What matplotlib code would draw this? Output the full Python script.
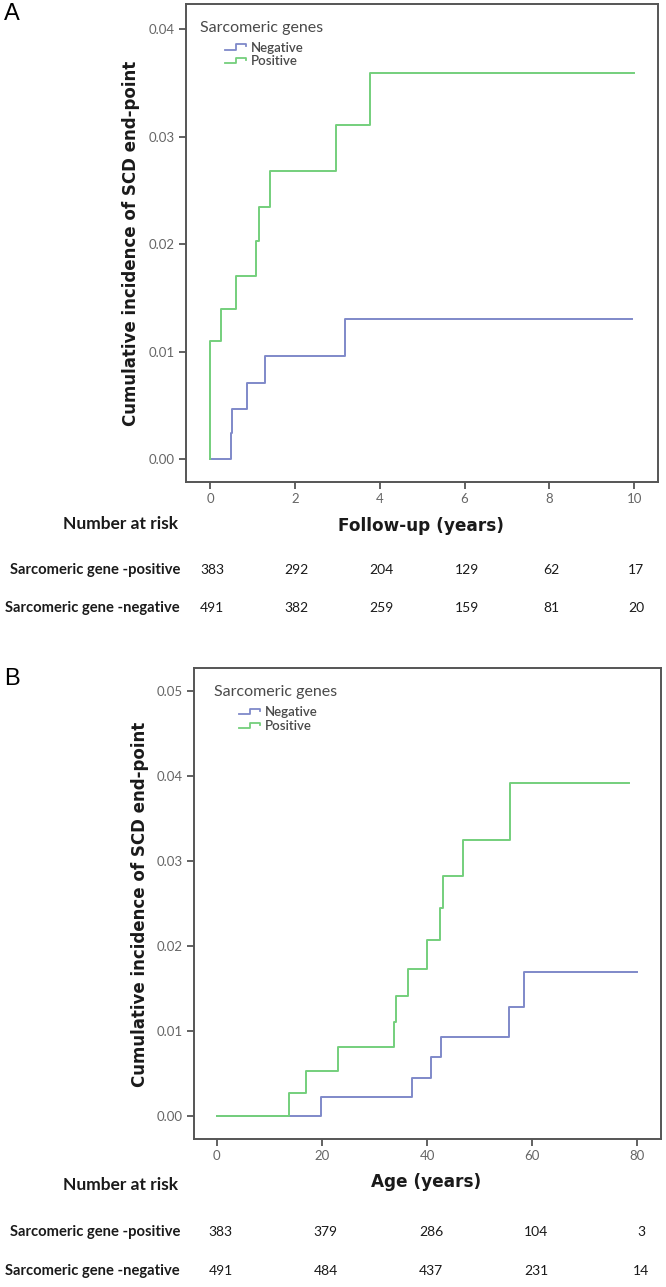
import matplotlib

matplotlib.use("Agg")
import matplotlib.pyplot as plt
import matplotlib.transforms as mtransforms
from matplotlib.legend_handler import HandlerBase
from matplotlib.lines import Line2D

# ---- data ----
# Panel A: follow-up (years)
a_pos_t = [0, 0, 0.26, 0.62, 1.09, 1.16, 1.41, 2.97, 3.78, 10.0]
a_pos_y = [0, 0.0110, 0.0140, 0.0170, 0.0203, 0.0235, 0.0268, 0.0311, 0.0359, 0.0359]
a_neg_t = [0, 0.49, 0.51, 0.87, 1.29, 3.18, 9.95]
a_neg_y = [0, 0.0024, 0.0047, 0.0071, 0.0096, 0.0130, 0.0130]

# Panel B: age (years)
b_pos_t = [0, 13.7, 17.0, 23.0, 33.7, 34.1, 36.3, 39.9, 42.4, 43.1, 46.9, 55.7, 78.5]
b_pos_y = [0, 0.0027, 0.0053, 0.0081, 0.0111, 0.0141, 0.0173, 0.0207, 0.0244,
           0.0282, 0.0325, 0.0392, 0.0392]
b_neg_t = [0, 19.9, 37.1, 40.7, 42.6, 55.5, 58.4, 80.0]
b_neg_y = [0, 0.0022, 0.0045, 0.0069, 0.0093, 0.0128, 0.0169, 0.0169]

a_risk_pos = [383, 292, 204, 129, 62, 17]
a_risk_neg = [491, 382, 259, 159, 81, 20]
b_risk_pos = [383, 379, 286, 104, 3]
b_risk_neg = [491, 484, 437, 231, 14]

a_xticks = [0, 2, 4, 6, 8, 10]
a_yticks = [0.00, 0.01, 0.02, 0.03, 0.04]
b_xticks = [0, 20, 40, 60, 80]
b_yticks = [0.00, 0.01, 0.02, 0.03, 0.04, 0.05]

GREEN = "#74cf7c"
BLUE = "#7f89c9"
SPINE = "#555555"
TICKTXT = "#666666"
DARK = "#1a1a1a"

plt.rcParams["font.family"] = ["Lato", "DejaVu Sans"]

W, H = 666, 1287


def fx(px):
    return px / W


def fy(py):
    return 1 - py / H


class HandlerStep(HandlerBase):
    # legend key drawn as a small step, like the reference
    def create_artists(self, legend, orig_handle, xdescent, ydescent,
                       width, height, fontsize, trans):
        x0 = -xdescent
        xm = x0 + width * 0.5
        xe = x0 + width * 0.95
        ylo = -ydescent + height * 0.2
        yhi = -ydescent + height * 0.8
        line = Line2D([x0, xm, xm, xe, xe], [ylo, ylo, yhi, yhi, yhi - height * 0.25],
                      color=orig_handle.get_color(), lw=1.3, transform=trans)
        return [line]


def draw_panel(box, pos_t, pos_y, neg_t, neg_y, xticks, yticks, xlim, ylim,
               title_xy, legend_xy):
    left, top, right, bottom = box
    ax = fig.add_axes([fx(left), fy(bottom), fx(right) - fx(left), fy(top) - fy(bottom)])
    ax.step(neg_t, neg_y, where="post", color=BLUE, lw=1.4)
    ax.step(pos_t, pos_y, where="post", color=GREEN, lw=1.4)
    ax.set_xlim(xlim)
    ax.set_ylim(ylim)
    ax.set_xticks(xticks)
    ax.set_xticklabels([str(t) for t in xticks])
    ax.set_yticks(yticks)
    ax.set_yticklabels(["{:.2f}".format(t) for t in yticks])
    for s in ax.spines.values():
        s.set_color(SPINE)
        s.set_linewidth(1.4)
    ax.tick_params(direction="out", length=5, width=1.3, color=SPINE,
                   labelcolor=TICKTXT, labelsize=9.5, pad=3)
    ax.text(title_xy[0], title_xy[1], "Sarcomeric genes", transform=ax.transAxes,
            fontsize=11.5, color="#4a4a4a", ha="left", va="center")
    handles = [Line2D([], [], color=BLUE), Line2D([], [], color=GREEN)]
    ax.legend(handles, ["Negative", "Positive"], loc="upper left",
              bbox_to_anchor=legend_xy, frameon=False, prop={"size": 9.5, "weight": "semibold"},
              handler_map={Line2D: HandlerStep()}, handlelength=1.7,
              handletextpad=0.25, labelspacing=0.12, borderpad=0, borderaxespad=0,
              labelcolor="#4a4a4a")
    return ax


fig = plt.figure(figsize=(W / 100, H / 100), dpi=100)

# Panel A
ax_a = draw_panel((186, 4.3, 658, 482), a_pos_t, a_pos_y, a_neg_t, a_neg_y,
                  a_xticks, a_yticks, (-0.566, 10.56), (-0.00211, 0.0423),
                  (0.03, 0.950), (0.083, 0.922))
# Panel B
ax_b = draw_panel((194, 667.7, 661, 1139), b_pos_t, b_pos_y, b_neg_t, b_neg_y,
                  b_xticks, b_yticks, (-4.32, 84.5), (-0.0027, 0.0527),
                  (0.043, 0.948), (0.096, 0.918))

ylab = "Cumulative incidence of SCD end-point"
fig.text(fx(131), fy(243), ylab, rotation=90, ha="center", va="center",
         fontsize=12, fontweight="bold", color=DARK, family="DejaVu Sans")
fig.text(fx(140), fy(904), ylab, rotation=90, ha="center", va="center",
         fontsize=12, fontweight="bold", color=DARK, family="DejaVu Sans")

fig.text(fx(4), fy(14), "A", fontsize=17, ha="left", va="center",
         family="Liberation Sans")
fig.text(fx(4), fy(679), "B", fontsize=17, ha="left", va="center",
         family="Liberation Sans")

# x-axis titles
fig.text(fx(421), fy(526), "Follow-up (years)", fontsize=12.2, fontweight="bold",
         ha="center", va="center", color=DARK, family="DejaVu Sans")
fig.text(fx(426), fy(1182), "Age (years)", fontsize=12.2, fontweight="bold",
         ha="center", va="center", color=DARK, family="DejaVu Sans")

tab_font = dict(fontsize=10, va="center", color=DARK)


def risk_table(ax, xs, y_head, y_pos, y_neg, pos, neg, shift):
    fig.text(fx(178), fy(y_head), "Number at risk", ha="right",
             fontweight="bold", fontsize=12.5, va="center", color=DARK)
    fig.text(fx(180), fy(y_pos), "Sarcomeric gene -positive", ha="right",
             fontweight="bold", fontsize=10.6, va="center", color=DARK)
    fig.text(fx(180), fy(y_neg), "Sarcomeric gene -negative", ha="right",
             fontweight="bold", fontsize=10.6, va="center", color=DARK)
    # numbers sit under the x ticks of the panel
    trans = mtransforms.blended_transform_factory(ax.transData, fig.transFigure)
    off = mtransforms.ScaledTranslation(shift / 100, 0, fig.dpi_scale_trans)
    for x, p, n in zip(xs, pos, neg):
        ax.text(x, fy(y_pos), str(p), ha="center", transform=trans + off,
                clip_on=False, **tab_font)
        ax.text(x, fy(y_neg), str(n), ha="center", transform=trans + off,
                clip_on=False, **tab_font)


risk_table(ax_a, a_xticks, 524, 570, 608, a_risk_pos, a_risk_neg, 2)
risk_table(ax_b, b_xticks, 1185, 1232, 1271, b_risk_pos, b_risk_neg, 4)

fig.savefig("out.png", dpi=100)
